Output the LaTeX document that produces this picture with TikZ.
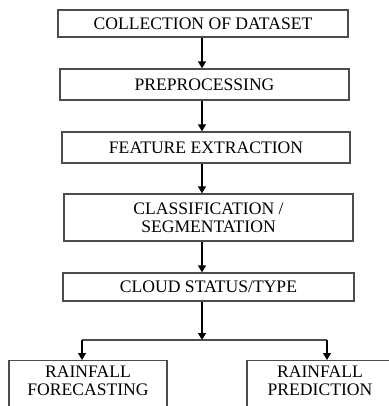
\documentclass[tikz,border=0pt]{standalone}
\usepackage{fontspec}
\setmainfont{Liberation Serif}
\usetikzlibrary{arrows.meta}
\begin{document}
\begin{tikzpicture}[x=1pt,y=-1pt,
  txt/.style={align=center,font=\fontsize{17.6}{18}\selectfont,inner sep=0pt},
  box/.style={txt,draw=black!70,line width=1.3pt},
  arr/.style={draw=black,line width=1.3pt,-{Triangle[length=7pt,width=8pt]}},
  ln/.style={draw=black!70,line width=1.3pt}]
\useasboundingbox (0,0) rectangle (388,406);
\coordinate (spine) at (202,0);
\node[box,minimum width=290pt,minimum height=27pt] (b1) at (203,23.5) {COLLECTION OF DATASET};
\node[box,minimum width=289pt,minimum height=31pt] (b2) at (204.5,84.5) {PREPROCESSING};
\node[box,minimum width=288pt,minimum height=31pt] (b3) at (206,147.5) {FEATURE EXTRACTION};
\node[box,minimum width=289pt,minimum height=47pt] (b4) at (208.5,217.5) {CLASSIFICATION /\\SEGMENTATION};
\node[box,minimum width=291pt,minimum height=28pt] (b5) at (208.5,287) {CLOUD STATUS/TYPE};
\node[box,minimum width=158pt,minimum height=70pt,anchor=north] (b6) at (88,360) {};
\node[box,minimum width=146pt,minimum height=70pt,anchor=north] (b7) at (320,360) {};
\node[txt] (t6) at (88,381) {RAINFALL\\FORECASTING};
\node[txt] (t7) at (320,381) {RAINFALL\\PREDICTION};
\coordinate (j) at (202,340);
\coordinate (jl) at (82,340);
\coordinate (jr) at (327,340);
\draw[arr] (b1.south -| spine) -- (b2.north -| spine);
\draw[arr] (b2.south -| spine) -- (b3.north -| spine);
\draw[arr] (b3.south -| spine) -- (b4.north -| spine);
\draw[arr] (b4.south -| spine) -- (b5.north -| spine);
\draw[arr] (b5.south -| spine) -- (j);
\draw[ln] (jl) -- (jr);
\draw[arr] (jl) -- (b6.north -| jl);
\draw[arr] (jr) -- (b7.north -| jr);
\end{tikzpicture}
\end{document}
